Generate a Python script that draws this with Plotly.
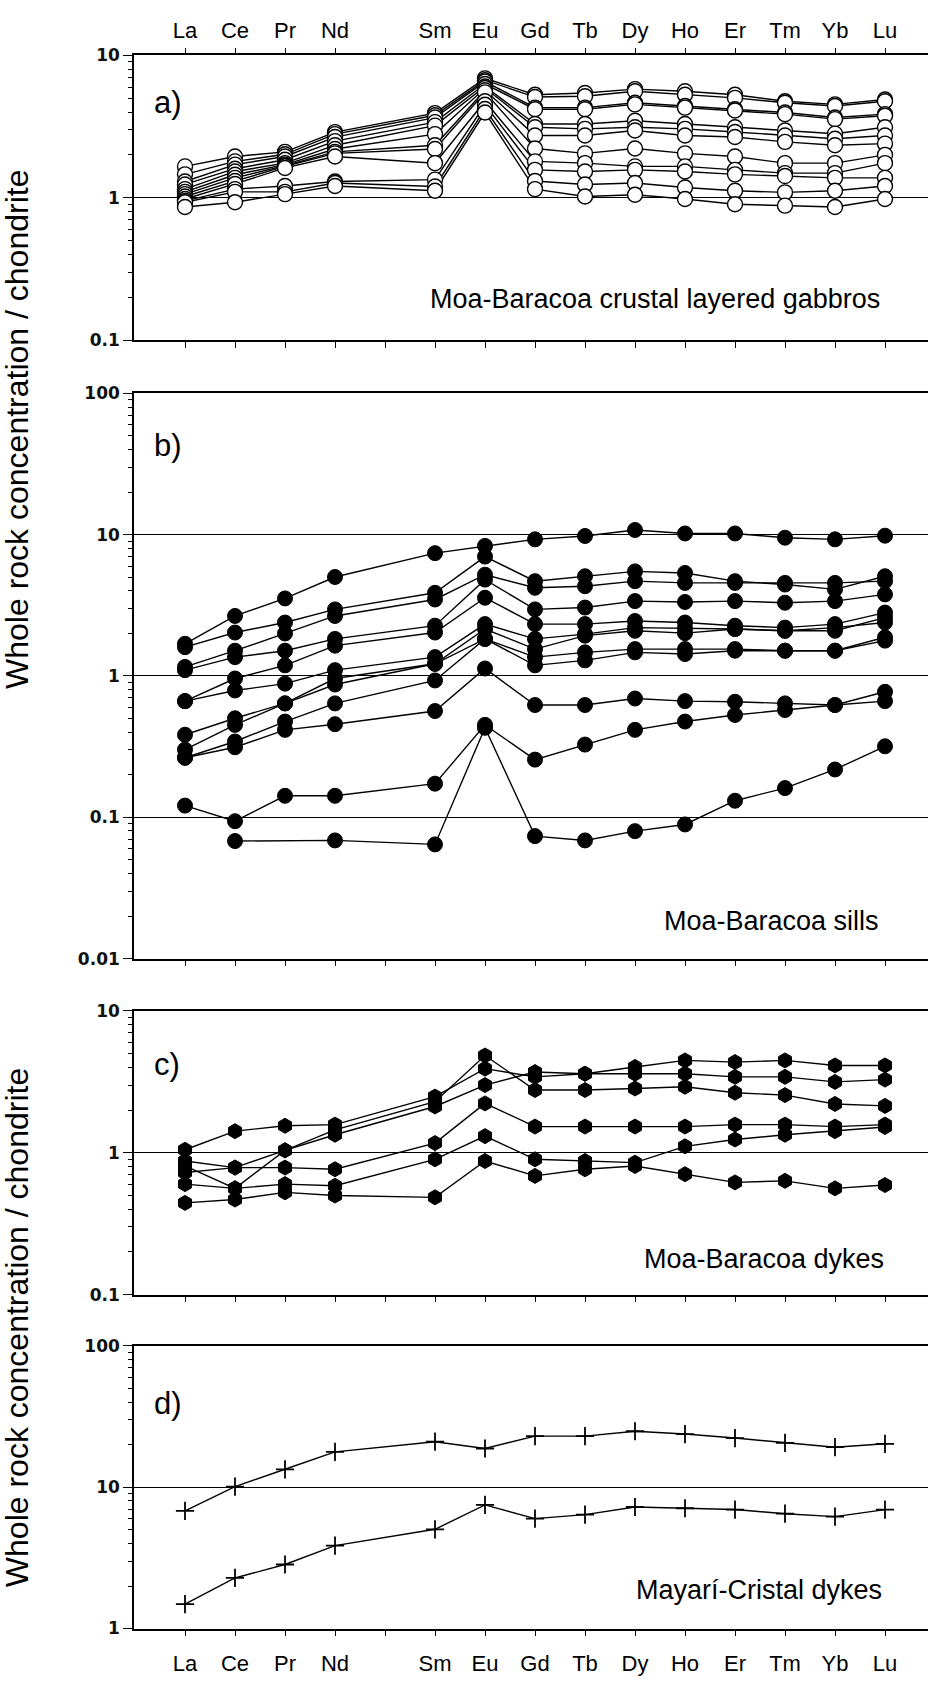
import plotly.graph_objects as go

# ---------------- data ----------------
ree_all = ["La", "Ce", "Pr", "Nd", "Pm", "Sm", "Eu", "Gd", "Tb", "Dy", "Ho", "Er", "Tm", "Yb", "Lu"]
ree_ticks = ["La", "Ce", "Pr", "Nd", "", "Sm", "Eu", "Gd", "Tb", "Dy", "Ho", "Er", "Tm", "Yb", "Lu"]
elements = ["La", "Ce", "Pr", "Nd", "Sm", "Eu", "Gd", "Tb", "Dy", "Ho", "Er", "Tm", "Yb", "Lu"]

# a) Moa-Baracoa crustal layered gabbros
gabbros = [
    [1.66, 1.95, 2.10, 2.89, 3.93, 6.9, 5.3, 5.45, 5.8, 5.6, 5.3, 4.77, 4.53, 4.9],
    [1.46, 1.80, 2.02, 2.80, 3.80, 6.7, 5.1, 5.17, 5.6, 5.3, 5.03, 4.65, 4.41, 4.77],
    [1.30, 1.71, 1.95, 2.67, 3.66, 6.55, 4.3, 4.3, 4.65, 4.41, 4.19, 3.97, 3.66, 3.87],
    [1.24, 1.60, 1.85, 2.50, 3.40, 6.3, 4.19, 4.19, 4.53, 4.3, 4.1, 3.87, 3.57, 3.77],
    [1.15, 1.53, 1.75, 2.34, 3.21, 6.05, 3.3, 3.3, 3.48, 3.3, 3.13, 2.97, 2.82, 3.13],
    [1.10, 1.45, 1.71, 2.20, 2.80, 5.9, 3.13, 3.05, 3.13, 3.05, 2.9, 2.74, 2.6, 2.74],
    [1.06, 1.38, 1.68, 2.10, 2.34, 5.7, 2.74, 2.74, 2.97, 2.74, 2.67, 2.47, 2.34, 2.4],
    [1.02, 1.31, 1.66, 2.05, 2.20, 5.5, 2.22, 2.05, 2.22, 2.05, 1.95, 1.75, 1.75, 2.0],
    [0.98, 1.25, 1.62, 1.95, 1.75, 4.77, 1.8, 1.75, 1.66, 1.66, 1.57, 1.49, 1.49, 1.75],
    [0.95, 1.15, 1.21, 1.30, 1.34, 4.5, 1.57, 1.53, 1.57, 1.53, 1.46, 1.42, 1.38, 1.38],
    [0.93, 1.10, 1.10, 1.27, 1.20, 4.2, 1.31, 1.24, 1.27, 1.18, 1.12, 1.09, 1.12, 1.21],
    [0.86, 0.93, 1.06, 1.21, 1.12, 3.97, 1.15, 1.02, 1.05, 0.98, 0.90, 0.88, 0.86, 0.98],
]

# b) Moa-Baracoa sills
sills = [
    [1.69, 2.66, 3.54, 5.02, 7.4, 8.33, 9.27, 9.79, 10.8, 10.2, 10.2, 9.52, 9.27, 9.84],
    [1.60, 2.03, 2.39, 2.96, 3.88, 7.0, 4.69, 5.08, 5.5, 5.36, 4.69, 4.44, 4.1, 5.08],
    [1.16, 1.51, 2.0, 2.66, 3.48, 5.21, 4.21, 4.32, 4.69, 4.56, 4.56, 4.56, 4.56, 4.69],
    [1.10, 1.36, 1.51, 1.83, 2.27, 4.81, 2.96, 3.05, 3.39, 3.34, 3.39, 3.3, 3.39, 3.78],
    [0.664, 0.96, 1.19, 1.64, 2.03, 3.58, 2.33, 2.33, 2.45, 2.39, 2.27, 2.2, 2.33, 2.81],
    [0.664, 0.79, 0.883, 1.1, 1.36, 2.33, 1.83, 1.98, 2.2, 2.17, 2.15, 2.09, 2.09, 2.59],
    [0.384, 0.502, 0.64, 0.96, 1.22, 2.15, 1.55, 1.93, 2.09, 2.01, 2.15, 2.09, 2.2, 2.39],
    [0.301, 0.451, 0.64, 0.87, 1.22, 1.83, 1.36, 1.47, 1.55, 1.55, 1.55, 1.51, 1.51, 1.88],
    [0.264, 0.344, 0.476, 0.64, 0.93, 1.83, 1.19, 1.29, 1.47, 1.43, 1.51, 1.51, 1.51, 1.78],
    [0.264, 0.313, 0.416, 0.456, 0.565, 1.13, 0.623, 0.623, 0.693, 0.664, 0.657, 0.64, 0.623, 0.773],
    [0.121, 0.0938, 0.142, 0.142, 0.173, 0.451, 0.256, 0.327, 0.416, 0.476, 0.53, 0.574, 0.623, 0.664],
    [None, 0.0679, None, 0.0686, 0.0643, 0.43, 0.0736, 0.0686, 0.0798, 0.089, 0.131, 0.161, 0.218, 0.318],
]

# c) Moa-Baracoa dykes
mb_dykes = [
    [1.05, 1.42, 1.55, 1.58, 2.49, 3.92, 3.43, 3.61, 4.03, 4.48, 4.36, 4.48, 4.13, 4.13],
    [0.725, 0.786, 1.04, 1.45, 2.29, 4.85, 2.77, 2.77, 2.84, 2.92, 2.65, 2.55, 2.21, 2.14],
    [0.807, 0.561, 1.04, 1.34, 2.12, 3.0, 3.71, 3.61, 3.61, 3.61, 3.43, 3.43, 3.16, 3.28],
    [0.875, 0.786, 0.786, 0.765, 1.17, 2.23, 1.53, 1.53, 1.53, 1.53, 1.58, 1.58, 1.53, 1.58],
    [0.601, 0.561, 0.601, 0.585, 0.899, 1.31, 0.899, 0.875, 0.852, 1.11, 1.24, 1.34, 1.42, 1.52],
    [0.443, 0.468, 0.526, 0.499, 0.485, 0.875, 0.687, 0.765, 0.807, 0.706, 0.618, 0.634, 0.561, 0.592],
]

# d) Mayarí-Cristal dykes
mc_dykes = [
    [6.8, 10.1, 13.4, 17.8, 21.0, 18.8, 23.0, 23.0, 24.9, 23.8, 22.3, 20.6, 19.2, 20.3],
    [1.49, 2.28, 2.84, 3.86, 5.04, 7.5, 6.0, 6.4, 7.25, 7.1, 6.95, 6.5, 6.2, 6.95],
]

panel_letters = ["a)", "b)", "c)", "d)"]
panel_names = ["Moa-Baracoa crustal layered gabbros", "Moa-Baracoa sills",
               "Moa-Baracoa dykes", "Mayarí-Cristal dykes"]
y_title = "Whole rock concentration / chondrite"

# ---------------- layout geometry ----------------
W, H = 928, 1684
X_LEFT = 134
x_pos = [ree_all.index(e) for e in elements]
x_range = [-1.02, 14.86]

# (top px, bottom px, log range)
panels = [
    (46, 334, [-1, 1]),
    (388, 960, [-2, 2]),
    (1013, 1300, [-1, 1]),
    (1352, 1638, [0, 2]),
]

def py(p):
    return 1 - p / H

def px(p):
    return p / W

FONT = "Liberation Sans, Arial, sans-serif"
TICKFONT = dict(family="DejaVu Sans, Verdana, sans-serif", size=17, color="#111", weight="bold")
XTICKFONT = dict(family=FONT, size=22, color="black")

fig = go.Figure()

datasets = [gabbros, sills, mb_dykes, mc_dykes]
marker_styles = [
    dict(symbol="circle", size=15, color="white", line=dict(color="black", width=1.4)),
    dict(symbol="circle", size=15, color="black", line=dict(color="black", width=1)),
    dict(symbol="hexagon", size=15, color="black", line=dict(color="black", width=1)),
    dict(symbol="cross-thin", size=13, color="black", line=dict(color="black", width=1.8)),
]

for i, (data, mstyle) in enumerate(zip(datasets, marker_styles)):
    xa = "x" if i == 0 else f"x{i+1}"
    ya = "y" if i == 0 else f"y{i+1}"
    for s in data:
        fig.add_trace(go.Scatter(x=x_pos, y=s, mode="lines", xaxis=xa, yaxis=ya,
                                 line=dict(color="black", width=1.4), connectgaps=True,
                                 showlegend=False, hoverinfo="skip"))
    for s in data:
        fig.add_trace(go.Scatter(x=x_pos, y=s, mode="markers", xaxis=xa, yaxis=ya,
                                 marker=mstyle, showlegend=False))

layout = dict(
    width=W, height=H, paper_bgcolor="white", plot_bgcolor="white",
    margin=dict(l=0, r=0, t=0, b=0), showlegend=False,
    font=dict(family=FONT, color="black"),
)

for i, (top, bot, rng) in enumerate(panels):
    k = "" if i == 0 else str(i + 1)
    minor_vals = [m * 10 ** d for d in range(rng[0], rng[1]) for m in range(2, 10)]
    major_vals = [10 ** d for d in range(rng[0], rng[1] + 1)]
    major_text = [("%g" % v) for v in major_vals]
    layout["yaxis" + k] = dict(
        type="log", range=rng, domain=[py(bot), py(top)], anchor="x" + k,
        tickmode="array", tickvals=major_vals, ticktext=major_text,
        ticks="outside", ticklen=9, tickwidth=1.3, tickcolor="black",
        showline=True, linewidth=1.6, linecolor="black", mirror=False,
        showgrid=True, gridcolor="black", gridwidth=1.3, zeroline=False,
        tickfont=TICKFONT,
        minor=dict(tickmode="array", tickvals=minor_vals, ticks="outside",
                   ticklen=4, tickwidth=1, tickcolor="black", showgrid=False),
    )
    xa = dict(
        range=x_range, domain=[px(X_LEFT), 1], anchor="y" + k,
        tickmode="array", tickvals=list(range(15)), ticktext=ree_ticks,
        ticks="outside", ticklen=6, tickwidth=1.3, tickcolor="black",
        showline=True, linewidth=1.6, linecolor="black",
        showgrid=False, zeroline=False, tickfont=XTICKFONT,
    )
    if i == 0:
        xa.update(side="top", mirror="ticks", showticklabels=False)
    elif i == 3:
        xa.update(side="bottom", mirror=True, showticklabels=True, ticklabelstandoff=8)
    else:
        xa.update(side="bottom", mirror=True, showticklabels=False)
    layout["xaxis" + k] = xa

# label-only axis for the element names above panel a
layout["xaxis5"] = dict(
    overlaying="x", matches="x", side="top", anchor="free", position=py(33),
    domain=[px(X_LEFT), 1], range=x_range,
    tickmode="array", tickvals=list(range(15)), ticktext=ree_ticks,
    ticks="", showline=False, showgrid=False, zeroline=False,
    showticklabels=True, tickfont=XTICKFONT,
)
fig.add_trace(go.Scatter(x=[None], y=[None], xaxis="x5", yaxis="y", mode="markers",
                         showlegend=False, hoverinfo="skip"))

annotations = []
letter_y = [94, 441, 1067, 1410]
name_y = [292, 922, 1264, 1599]
name_x = [882, 881, 886, 884]
for i in range(4):
    annotations.append(dict(text=panel_letters[i], xref="paper", yref="paper",
                            x=px(152), y=py(letter_y[i]), xanchor="left", yanchor="middle",
                            showarrow=False, font=dict(family=FONT, size=31, color="black")))
    annotations.append(dict(text=panel_names[i], xref="paper", yref="paper",
                            x=px(name_x[i]), y=py(name_y[i]), xanchor="right", yanchor="middle",
                            showarrow=False, font=dict(family=FONT, size=27, color="black")))
for yc in (425, 1334):
    annotations.append(dict(text=y_title, xref="paper", yref="paper",
                            x=px(17), y=py(yc), xanchor="center", yanchor="middle",
                            textangle=-90, showarrow=False,
                            font=dict(family=FONT, size=32, color="black")))
layout["annotations"] = annotations

fig.update_layout(**layout)
fig.write_html("out.html")
